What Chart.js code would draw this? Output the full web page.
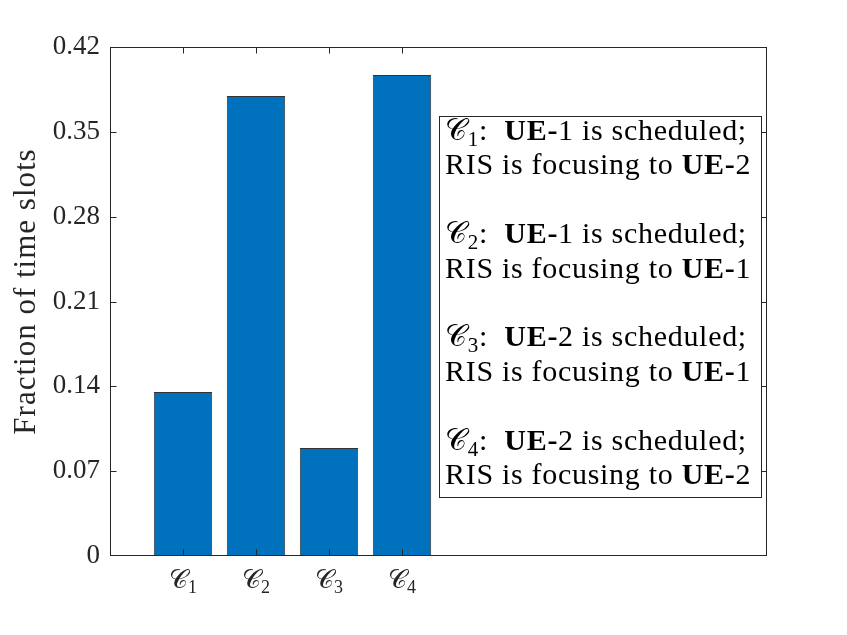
<!DOCTYPE html>
<html lang="en">
  <head>
    <meta charset="UTF-8" />
    <title>Fraction of time slots</title>
    <script src="https://cdn.jsdelivr.net/npm/chart.js"></script>
    <style>
      html, body { margin: 0; padding: 0; background: #fff; }
    </style>
  </head>
  <body>
    <canvas id="slotChart" width="847" height="635"></canvas>
    <script>
      // data
      const caseIndex = ["1", "2", "3", "4"];          // subscripts of the C_i categories
      const casePos = [1, 2, 3, 4];
      const fractions = [0.1353, 0.3795, 0.0891, 0.3969];
      const yTicks = [0, 0.07, 0.14, 0.21, 0.28, 0.35, 0.42];
      const yTickLabels = ["0", "0.07", "0.14", "0.21", "0.28", "0.35", "0.42"];
      const scheduledUE = ["1", "1", "2", "2"];
      const focusedUE = ["2", "1", "1", "2"];

      const AXIS = "#262626";
      const SERIF = '"Liberation Serif", "DejaVu Serif", serif';
      const CAL = "\u{1D49E}";

      function setFont(ctx, p, size) {
        if (p.s === "b") ctx.font = `bold ${size}px ${SERIF}`;
        else if (p.s === "sub") ctx.font = `${Math.round(size * 0.7)}px ${SERIF}`;
        else ctx.font = `${size}px ${SERIF}`;
      }

      function drawRich(ctx, parts, x, y, size) {
        parts.forEach(p => {
          setFont(ctx, p, size);
          ctx.fillText(p.t, x, y + (p.s === "sub" ? size * 0.2 : 0));
          x += ctx.measureText(p.t).width;
        });
        return x;
      }

      function richWidth(ctx, parts, size) {
        let w = 0;
        parts.forEach(p => { setFont(ctx, p, size); w += ctx.measureText(p.t).width; });
        return w;
      }

      const framePlugin = {
        id: "frame",
        afterDatasetsDraw(chart) {
          const ctx = chart.ctx;
          const a = chart.chartArea;
          const xs = chart.scales.x, ys = chart.scales.y;
          const tl = 6.5;
          ctx.save();
          ctx.strokeStyle = AXIS;
          ctx.lineWidth = 1;
          ctx.strokeRect(a.left + 0.5, a.top + 0.5, a.right - a.left - 1, a.bottom - a.top - 1);
          ctx.beginPath();
          xs.ticks.forEach(t => {
            const px = Math.round(xs.getPixelForValue(t.value)) + 0.5;
            ctx.moveTo(px, a.bottom); ctx.lineTo(px, a.bottom - tl);
            ctx.moveTo(px, a.top); ctx.lineTo(px, a.top + tl);
          });
          ys.ticks.forEach(t => {
            const py = Math.round(ys.getPixelForValue(t.value)) + 0.5;
            if (py < a.top + 2 || py > a.bottom - 2) return;
            ctx.moveTo(a.left, py); ctx.lineTo(a.left + tl, py);
            ctx.moveTo(a.right, py); ctx.lineTo(a.right - tl, py);
          });
          ctx.stroke();

          // x tick labels C_i
          ctx.fillStyle = AXIS;
          ctx.textBaseline = "alphabetic";
          ctx.textAlign = "left";
          xs.ticks.forEach((t, i) => {
            const parts = [{ t: CAL }, { t: caseIndex[i], s: "sub" }];
            const w = richWidth(ctx, parts, 26);
            drawRich(ctx, parts, xs.getPixelForValue(t.value) - w / 2, 588, 26);
          });

          // y axis title
          ctx.save();
          ctx.translate(35, (a.top + a.bottom) / 2 - 10);
          ctx.rotate(-Math.PI / 2);
          ctx.font = `31px ${SERIF}`;
          ctx.letterSpacing = "1px";
          const tw = ctx.measureText("Fraction of time slots").width;
          ctx.fillText("Fraction of time slots", -tw / 2, 0);
          ctx.restore();

          // annotation box
          const bx = 439, by = 116, bw = 322, bh = 381;
          ctx.fillStyle = "#fff";
          ctx.fillRect(bx, by, bw, bh);
          ctx.strokeStyle = AXIS;
          ctx.strokeRect(bx + 0.5, by + 0.5, bw, bh);
          ctx.fillStyle = "#000";
          ctx.letterSpacing = "0.7px";
          const size = 30, lineH = 34.4;
          caseIndex.forEach((c, i) => {
            const y0 = by + 24 + i * 3 * lineH;
            drawRich(ctx, [
              { t: CAL }, { t: c, s: "sub" }, { t: ":  " },
              { t: "UE-", s: "b" }, { t: scheduledUE[i] }, { t: " is scheduled;" }
            ], bx + 6, y0, size);
            drawRich(ctx, [
              { t: "RIS is focusing to " }, { t: "UE-", s: "b" }, { t: focusedUE[i] }
            ], bx + 6, y0 + lineH, size);
          });
          ctx.letterSpacing = "0px";
          ctx.restore();
        }
      };

      new Chart(document.getElementById("slotChart"), {
        type: "bar",
        data: {
          datasets: [{
            data: casePos.map((x, i) => ({ x: x, y: fractions[i] })),
            backgroundColor: "#0072BD",
            borderColor: "#333333",
            borderWidth: 1,
            barPercentage: 0.8,
            categoryPercentage: 1
          }]
        },
        options: {
          responsive: false,
          animation: false,
          layout: { padding: { left: 0, top: 47, right: 80, bottom: 0 } },
          plugins: { legend: { display: false }, tooltip: { enabled: false } },
          scales: {
            x: {
              type: "linear",
              offset: false,
              min: 0,
              max: 9,
              afterBuildTicks: s => { s.ticks = casePos.map(v => ({ value: v })); },
              afterFit: s => { s.height = 79; },
              ticks: { display: false },
              grid: { display: false },
              border: { display: false }
            },
            y: {
              min: 0,
              max: 0.42,
              afterBuildTicks: s => { s.ticks = yTicks.map(v => ({ value: v })); },
              afterFit: s => { s.width = 110; },
              ticks: {
                callback: (v, i) => yTickLabels[i],
                color: AXIS,
                padding: 10,
                font: { family: SERIF, size: 27 }
              },
              grid: { display: false, drawTicks: false },
              border: { display: false }
            }
          }
        },
        plugins: [framePlugin]
      });
    </script>
  </body>
</html>
